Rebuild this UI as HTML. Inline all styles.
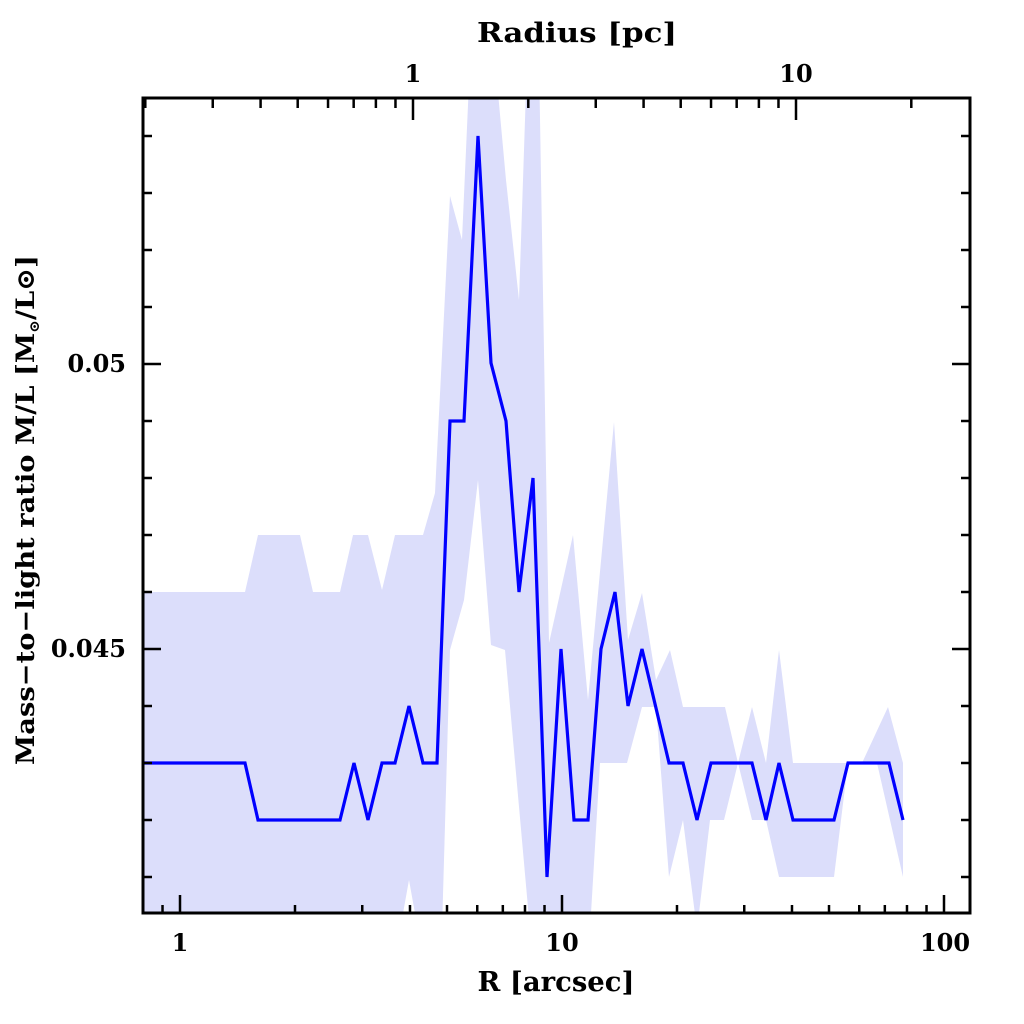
<!DOCTYPE html>
<html><head><meta charset="utf-8"><style>
html,body{margin:0;padding:0;background:#fff;}
svg{display:block;}
text{font-family:"DejaVu Serif","Liberation Serif",serif;font-weight:bold;fill:#000;}
</style></head><body>
<svg width="1024" height="1024" viewBox="0 0 1024 1024" xmlns="http://www.w3.org/2000/svg">
<defs><clipPath id="c"><rect x="143" y="98" width="827" height="815"/></clipPath></defs>
<g clip-path="url(#c)">
<polygon fill="#dcdefb" points="
143,592 245,592 258,535 300,535 313,592 340,592 353,535 368,535 382,590 395,535 423,535 435,493 450,196 462,240 470,60 495,60 506,180 519,300 527,60 539,60 549,643 573,535 588,700 614,422 628,640 642,593 656,680 670,650 683,707 725,707 738,763 752,707 766,763 779,650 793,763 834,763 848,763 862,763 888,707 903,763
903,877 877,763 848,763 834,877 779,877 766,820 752,820 738,763 724,820 710,820 697,930 683,820 669,877 656,707 642,707 627,763 600,763 590,930 553,930 547,930 530,930 505,650 491,645 478,480 464,600 450,650 442,930 418,930 409,880 400,930 143,930"/>
<polyline fill="none" stroke="#0000ff" stroke-width="3.2" stroke-linejoin="miter" points="
143,763 245,763 258,820 340,820 354,763 368,820 382,763 395,763 409,706 423,763 437,763 450,421 464,421 478,136 491,363 506,421 519,592 533,478 547,877 561,649 574,820 588,820 601,649 615,592 628,706 642,649 669,763 683,763 697,820 711,763 752,763 766,820 779,763 793,820 834,820 848,763 889,763 903,820"/>
</g>
<rect x="143" y="98" width="827" height="815" fill="none" stroke="#000" stroke-width="3"/>
<g stroke="#000" stroke-width="2.5" id="ticks"></g>
<text x="577" y="42" font-size="27" text-anchor="middle" textLength="200" lengthAdjust="spacingAndGlyphs">Radius [pc]</text>
<text x="413" y="82" font-size="24" text-anchor="middle">1</text>
<text x="796" y="82" font-size="24" text-anchor="middle">10</text>
<text x="180" y="951" font-size="24" text-anchor="middle">1</text>
<text x="562" y="951" font-size="24" text-anchor="middle">10</text>
<text x="945" y="951" font-size="24" text-anchor="middle">100</text>
<text x="556" y="991" font-size="27" text-anchor="middle" textLength="157" lengthAdjust="spacingAndGlyphs">R [arcsec]</text>
<text x="126" y="372" font-size="24" text-anchor="end">0.05</text>
<text x="126" y="657" font-size="24" text-anchor="end">0.045</text>
<text transform="translate(34,510) rotate(-90)" font-size="25" text-anchor="middle" textLength="510" lengthAdjust="spacingAndGlyphs">Mass−to−light ratio M/L [M<tspan font-size="14" dy="5">⊙</tspan><tspan dy="-5">/L⊙]</tspan></text>
</svg>
<script>
(function(){
var g=document.getElementById('ticks'),s='';
function L(x1,y1,x2,y2){s+='<line x1="'+x1+'" y1="'+y1+'" x2="'+x2+'" y2="'+y2+'"/>';}
for(var d=-1;d<=2;d++)for(var m=1;m<10;m++){var v=m*Math.pow(10,d);var x=180+382*Math.log10(v);if(x<144||x>969)continue;var len=(m==1)?18:8;L(x,913,x,913-len);}
for(var d=-1;d<=1;d++)for(var m=1;m<10;m++){var v=m*Math.pow(10,d);var x=413+383*Math.log10(v);if(x<144||x>969)continue;var len=(m==1)?22:10;L(x,98,x,98+len);}
for(var k=41;k<=55;k++){var y=364+(50-k)*57;if(y<100||y>911)continue;var len=(k%5==0)?18:9;L(143,y,143+len,y);L(970,y,970-len,y);}
g.innerHTML=s;
})();
</script>
</body></html>
